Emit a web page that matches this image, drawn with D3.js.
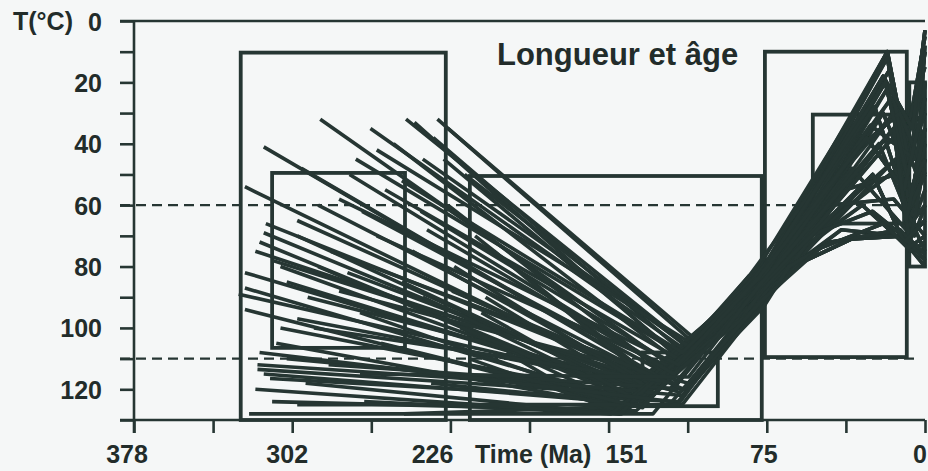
<!DOCTYPE html>
<html><head><meta charset="utf-8">
<script src="https://cdn.jsdelivr.net/npm/d3@7"></script>
<style>
html,body{margin:0;padding:0;background:#f5f7f7;}
svg{display:block;}
text{font-family:"Liberation Sans",Arial,Helvetica,sans-serif;font-weight:bold;fill:#222c2a;}
</style></head><body>
<svg id="chart" width="928" height="471"></svg>
<script>
// ---------- data ----------
const title = "Longueur et âge";
const yAxisLabel = "T(°C)";
const xAxisLabel = "Time (Ma)";
const xMajorTicks = [378, 302.4, 226.8, 151.2, 75.6, 0];
const xMajorLabels = ["378", "302", "226", "151", "75", "0"];
const xMinorTicks = [340.2, 264.6, 189, 113.4, 37.8];
const yTicks = [0, 10, 20, 30, 40, 50, 60, 70, 80, 90, 100, 110, 120, 130];
const yLabelled = [0, 20, 40, 60, 80, 100, 120];
const dashedTemps = [60, 110];

// constraint boxes (age from, age to, temp top, temp bottom)
const boxAgeFrom = [327, 312, 217.5, 135, 76.5, 53.6, 7.5];
const boxAgeTo = [229, 248.5, 78, 99, 8.7, 10, 0];
const boxTempTop = [10.3, 49.5, 50.5, 108, 10, 30.5, 20];
const boxTempBottom = [130, 106.5, 130, 125.5, 109.5, 66, 80];

// time-temperature paths: start, minimum, waist, then a tail
const startAge = [289,316,272,248,254,233,235,325,269,241,316,320,308,325,325,328,325,308,319,319,316,313,312,323,268,249,284,276,315,244,230,300,222,210,200,236,300,290,
  305,295,318,312,300,290,280,270,262,258,250,245,240,228,225,220,218,215,310,305,296,285,320,300,260,275,298,265,240,228,206,212,
  262,250,280,238,226,292,270,318];
const startTemp = [32,41,45,32,40,32,38,54,62,62,69,75,80,82,87,89,94,100,112,113.5,115,116.5,124,128,124,128,75,82,66,33,45,70,100,90,108,118,97,60,
  85,90,72,78,65,80,88,95,70,55,85,75,90,60,80,50,110,70,105,110,118,112,120,125,105,50,48,35,45,35,75,95,
  42,52,58,68,88,100,115,108];
const minAge = [122,128,118,115,120,112,117,132,126,120,135,130,138,133,140,128,145,136,142,130,148,118,138,130,145,116,125,132,128,119,116,137,150,140,155,135,122,124,
  134,117,140,126,131,138,113,144,121,118,133,129,136,124,131,114,147,127,141,116,146,114,150,118,135,122,127,117,113,111,130,139,
  114,116,118,120,115,119,113,121];
const minTemp = [112,116,108,105,110,104,107,118,114,112,120,118,122,121,124,120,125,123,120,122,124,124,127,128,128,125,116,119,117,109,110,121,123,119,126,125,120,118,
  121,121,122,118,117,124,118,125,113,110,122,119,124,115,120,106,127,118,126,122,128,120,128,125,126,114,116,106,106,103,118,123,
  104,108,112,115,120,118,116,124];
const waistAge = [80,82,79,81,78,80,83,80,79,82,78,81,80,84,79,77,80,82,81,78,80,77,79,81,78,77,82,80,79,81,83,80,78,82,79,80,81,79,
  80,78,82,79,81,77,79,83,80,78,81,79,82,80,78,84,77,80,79,78,81,77,80,79,82,83,80,81,84,82,79,80,
  76,79,80,78,77,81,79,78];
const waistTemp = [86,85,87,84,88,85,84,87,88,86,90,86,89,85,88,90,89,86,87,89,88,91,90,87,90,91,85,88,89,84,85,88,90,86,89,88,87,86,
  87,90,85,88,86,91,89,84,87,90,86,88,85,87,90,83,91,86,88,90,87,92,89,89,86,84,87,85,83,84,88,88,
  82,83,84,92,93,88,86,91];
const tails = [
  [[18,10],[8,45],[0,30]],
  [[18,12],[6,60],[0,20]],
  [[17,16],[9,40],[0,5]],
  [[19,20],[7,55],[0,45]],
  [[16,25],[5,70],[0,60]],
  [[20,30],[8,50],[0,10]],
  [[15,35],[9,65],[0,35]],
  [[22,40],[10,60],[0,75]],
  [[14,45],[8,70],[0,55]],
  [[25,50],[10,72],[0,65]],
  [[30,60],[9,73],[0,40]],
  [[40,68],[12,70],[0,80]],
  [[60,79],[35,71],[10,70],[0,78]],
  [[50,74],[20,66],[8,74],[0,70]],
  [[13,48],[6,28],[0,15]],
  [[18,22],[4,50],[0,8]],
  [[24,28],[8,62],[0,50]],
  [[28,38],[10,55],[0,25]],
  [[35,48],[9,68],[0,60]],
  [[45,60],[15,58],[0,70]],
  [[55,70],[25,62],[7,72],[0,45]],
  [[20,18],[6,35],[0,3]],
  [[33,42],[12,30],[0,50]],
  [[15,30],[7,75],[0,72]],
  [[26,34],[5,45],[0,35]],
  [[38,55],[14,50],[0,20]],
  [[65,80],[45,72],[12,68],[0,76]],
  [[48,64],[18,40],[0,30]]
];
const tailOf = [0,5,1,2,3,4,14,6,7,8,9,10,11,12,13,15,0,1,2,3,4,5,6,7,8,9,10,11,12,13,14,15,0,3,6,9,12,2,
  16,17,18,19,20,21,22,23,24,25,26,27,16,17,18,19,20,21,22,23,24,25,26,27,0,1,21,5,16,17,24,22,
  21,3,17,12,26,9,6,13];

// ---------- drawing ----------
const ink = "#263633";
const svg = d3.select("#chart");
const x = d3.scaleLinear().domain([378, 0]).range([134, 925]);
const y = d3.scaleLinear().domain([0, 130]).range([21, 420]);

// dashed reference lines
svg.selectAll("line.dash").data(dashedTemps).join("line")
  .attr("x1", x(378) - 14).attr("x2", x(0) - 5)
  .attr("y1", d => y(d)).attr("y2", d => y(d))
  .attr("stroke", ink).attr("stroke-width", 2.4).attr("stroke-dasharray", "10,6");

// boxes
svg.selectAll("rect.box").data(boxAgeFrom.map((a, i) => i)).join("rect")
  .attr("x", i => x(boxAgeFrom[i]))
  .attr("y", i => y(boxTempTop[i]))
  .attr("width", i => x(boxAgeTo[i]) - x(boxAgeFrom[i]))
  .attr("height", i => y(boxTempBottom[i]) - y(boxTempTop[i]))
  .attr("fill", "none").attr("stroke", ink).attr("stroke-width", 3.8);

// paths
const pathData = startAge.map((a, i) => [
  [startAge[i], startTemp[i]],
  [minAge[i], minTemp[i]],
  [waistAge[i], waistTemp[i]],
  ...tails[tailOf[i]]
]);
const line = d3.line().x(d => x(d[0])).y(d => y(d[1]));
svg.selectAll("path.tt").data(pathData).join("path")
  .attr("d", line).attr("fill", "none").attr("stroke", ink)
  .attr("stroke-width", 3.6).attr("stroke-linejoin", "round").attr("stroke-linecap", "butt");

// frame lines
svg.append("line").attr("x1", x(378) - 14).attr("x2", x(0)).attr("y1", y(0)).attr("y2", y(0))
  .attr("stroke", ink).attr("stroke-width", 2.6);
svg.append("line").attr("x1", x(378) - 14).attr("x2", x(0)).attr("y1", y(130)).attr("y2", y(130))
  .attr("stroke", ink).attr("stroke-width", 2.6);
svg.append("line").attr("x1", x(378)).attr("x2", x(378)).attr("y1", y(0)).attr("y2", y(130) + 13)
  .attr("stroke", ink).attr("stroke-width", 2.6);

// y axis
const yAxis = d3.axisLeft(y).tickValues(yTicks).tickSize(14).tickPadding(18)
  .tickFormat(d => yLabelled.includes(d) ? String(d) : "");
const gy = svg.append("g").attr("transform", `translate(${x(378)},0)`).call(yAxis);
gy.select(".domain").remove();
gy.selectAll(".tick line").attr("stroke", ink).attr("stroke-width", 2.6);
gy.selectAll(".tick text").attr("font-size", 25).attr("fill", "#222c2a")
  .attr("font-family", '"Liberation Sans",Arial,sans-serif').attr("font-weight", "bold").attr("dy", "0.36em");

svg.append("text").attr("x", 13).attr("y", y(0)).attr("dy", "0.36em")
  .attr("font-size", 25).text(yAxisLabel);

// x axis
const xAxis = d3.axisBottom(x).tickValues(xMajorTicks.concat(xMinorTicks)).tickSize(13).tickFormat("");
const gx = svg.append("g").attr("transform", `translate(0,${y(130)})`).call(xAxis);
gx.select(".domain").remove();
gx.selectAll(".tick line").attr("stroke", ink).attr("stroke-width", 2.6);

const labelAnchor = ["middle", "middle", "end", "start", "middle", "end"];
const labelShift = [-7, -5, 3, -3, -3, 2];
svg.selectAll("text.xl").data(xMajorTicks).join("text")
  .attr("x", (d, i) => x(d) + labelShift[i])
  .attr("y", 463)
  .attr("text-anchor", (d, i) => labelAnchor[i])
  .attr("font-size", 25).text((d, i) => xMajorLabels[i]);
svg.append("text").attr("x", 475).attr("y", 463).attr("font-size", 25).text(xAxisLabel);

// title
svg.append("text").attr("x", 497).attr("y", 65).attr("font-size", 31).text(title);
</script>
</body></html>
